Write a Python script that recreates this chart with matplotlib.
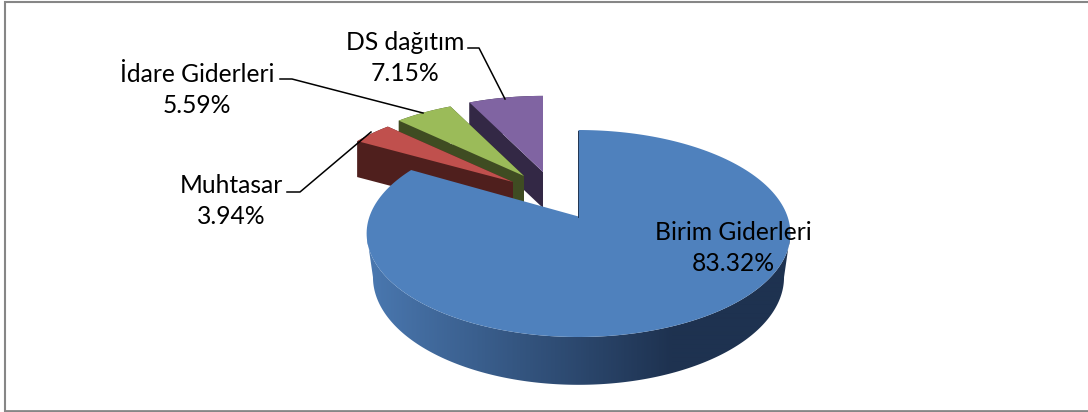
import numpy as np
import matplotlib
matplotlib.use('Agg')
import matplotlib.pyplot as plt
from matplotlib.colors import LinearSegmentedColormap
from matplotlib.patches import Polygon

names = ['Birim Giderleri', 'Muhtasar', 'İdare Giderleri', 'DS dağıtım']
values = [83.32, 3.94, 5.59, 7.15]

top_colors = ['#4F81BD', '#C0504D', '#9BBB59', '#8064A2']
side_colors = ['#1F3350', '#4F1F1D', '#3F4C22', '#332845']

# apex of each slice in picture pixels, the pie is exploded except for the big one
apex = [(578.5, 216.5), (513, 182), (524, 176), (543, 172)]
label_pos = [(733, 248), (231, 201), (197, 90), (405, 58)]
leaders = [None,
           [(287, 192), (300, 192), (371, 132)],
           [(280, 79), (292, 79), (423, 113)],
           [(468, 48), (479, 48), (505, 99)]]

plt.rcParams['font.family'] = ['Lato', 'DejaVu Sans']

# perspective of the tilted disc
A, B, K = 209.0, 100.7, 0.1643


def project(theta):
    u = np.cos(theta)
    v = np.sin(theta)
    w = 1 + K * v
    return A * u / w, B * v / w


def top_face(a0, a1, center, sx, sy):
    x, y = project(np.linspace(a0, a1, 200))
    xs = np.r_[0, x] * sx + center[0]
    ys = center[1] - np.r_[0, y] * sy
    return np.column_stack([xs, ys])


fig = plt.figure(figsize=(10.88, 4.12), dpi=100)
ax = fig.add_axes([0, 0, 1, 1])
ax.axis('off')

# frame has no right side in the original
ax.plot([1088, 5, 5], [2, 2, 411], color='#868686', lw=1.5, solid_joinstyle='miter', zorder=1)
ax.plot([5, 1088], [411, 411], color='#868686', lw=2, zorder=1)

# slice angles, clockwise from 12 o'clock
edges = np.pi / 2 - 2 * np.pi * np.r_[0, np.cumsum(values)] / np.sum(values)

# exploded slices, back to front
for i, z in zip([3, 2, 1], [2, 3, 4]):
    poly = top_face(edges[i], edges[i + 1], apex[i], 0.93, 0.88)
    depth = 36
    drop = np.array([0, depth])
    # the two cut faces and the rim
    for a, b in [(poly[0], poly[1]), (poly[0], poly[-1])]:
        ax.add_patch(Polygon([a, b, b + drop, a + drop], fc=side_colors[i], ec='none', zorder=z))
    ax.add_patch(Polygon(np.vstack([poly[1:], poly[1:][::-1] + drop]), fc=side_colors[i], ec='none', zorder=z))
    ax.add_patch(Polygon(poly, fc=top_colors[i], ec='none', zorder=z))

# main slice wall with the gradient, only the front of the rim shows
cmap = LinearSegmentedColormap.from_list('wall', [(0, '#4A78B0'), (0.72, '#1E3250'), (1, '#1E3250')])
side = np.arcsin(K)
x, y = project(np.linspace(-np.pi + side, -side, 400))
tx, ty = apex[0][0] + x, apex[0][1] - y
bx, by = apex[0][0] + x * 0.97, apex[0][1] + 43 - y * 1.04
wall = Polygon(np.vstack([np.column_stack([tx, ty]), np.column_stack([bx, by])[::-1]]),
               fc='none', ec='none', transform=ax.transData)
ax.add_patch(wall)
img = ax.imshow(np.linspace(0, 1, 425)[None, :], extent=(367, 792, 400, 120), cmap=cmap,
                aspect='auto', zorder=6, interpolation='bilinear')
img.set_clip_path(wall)

ax.add_patch(Polygon(top_face(edges[0], edges[1], apex[0], 1, 1), fc=top_colors[0], ec='none', zorder=7))
ax.plot([apex[0][0] - 0.3, apex[0][0] - 0.3], [apex[0][1], 131], color='#1F3350', lw=0.7, zorder=8)

for i in range(4):
    ax.text(label_pos[i][0], label_pos[i][1], f'{names[i]}\n{values[i]:.2f}%', ha='center', va='center',
            fontsize=17.7, color='black', linespacing=1.47, zorder=10)
    if leaders[i]:
        ax.plot(*zip(*leaders[i]), color='black', lw=1.1, zorder=9)

ax.set_xlim(0, 1088)
ax.set_ylim(412, 0)

fig.savefig('out.png', dpi=100)
